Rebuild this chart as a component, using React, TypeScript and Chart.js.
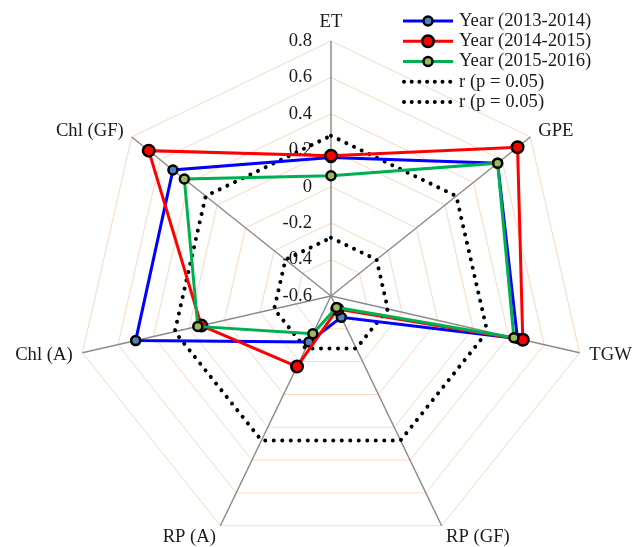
import React, { useEffect, useRef } from 'react';
import { Chart, registerables } from 'chart.js';

Chart.register(...registerables);

// ---------- data ----------
const categories = ['ET', 'GPE', 'TGW', 'RP (GF)', 'RP (A)', 'Chl (A)', 'Chl (GF)'];
const year2013_2014 = [0.16, 0.57, 0.45, -0.47, -0.32, 0.5, 0.51];
const year2014_2015 = [0.17, 0.71, 0.48, -0.52, -0.17, 0.13, 0.68];
const year2015_2016 = [0.06, 0.57, 0.43, -0.53, -0.37, 0.15, 0.43];
const rUpper = [0.28, 0.28, 0.28, 0.28, 0.28, 0.28, 0.28];
const rLower = [-0.28, -0.28, -0.28, -0.28, -0.28, -0.28, -0.28];
const seriesLabels = ['Year (2013-2014)', 'Year (2014-2015)', 'Year (2015-2016)', 'r (p = 0.05)', 'r (p = 0.05)'];
const tickLabels = ['-0.6', '-0.4', '-0.2', '0', '0.2', '0.4', '0.6', '0.8'];
const scaleMin = -0.6;
const scaleMax = 0.8;
const scaleStep = 0.2;

// ---------- styles ----------
const FONT = "'Liberation Serif', 'Times New Roman', serif";
const FONT_SIZE = 18.67;
const TEXT_COLOR = '#1a1a1a';
const DOT_DASH = [0.001, 8.5];
const LEGEND_DOT_DASH = [0.001, 7.7];
const CANVAS_W = 644;
const CANVAS_H = 592; // taller than the window; the bottom is cut by the viewport

const overlayPlugin = {
  id: 'overlayText',
  beforeDatasetsDraw(chart: any) {
    const s = chart.scales.r;
    const ctx = chart.ctx;
    ctx.save();
    ctx.font = `${FONT_SIZE}px ${FONT}`;
    ctx.fillStyle = TEXT_COLOR;
    // tick labels, right-aligned left of the vertical axis
    ctx.textAlign = 'right';
    ctx.textBaseline = 'middle';
    s.ticks.forEach((t: any, i: number) => {
      const d = s.getDistanceFromCenterForValue(t.value);
      ctx.fillText(tickLabels[i] ?? String(t.value), s.xCenter - 19, s.yCenter - d);
    });
    // point labels
    categories.forEach((lab, i) => {
      const p = s.getPointPosition(i, s.drawingArea + 10);
      const dx = p.x - s.xCenter;
      ctx.textAlign = Math.abs(dx) < 1 ? 'center' : dx > 0 ? 'left' : 'right';
      ctx.textBaseline = Math.abs(dx) < 1 && p.y < s.yCenter ? 'bottom' : 'middle';
      const extra = p.y > s.yCenter + s.drawingArea * 0.8 ? 2 : 0;
      ctx.fillText(lab, p.x, p.y + extra);
    });
    ctx.restore();
  },
  afterDraw(chart: any) {
    const ctx = chart.ctx;
    const x0 = 403;
    const x1 = 453;
    const tx = 459;
    const y0 = 21;
    const rowH = 20.25;
    ctx.save();
    chart.data.datasets.forEach((ds: any, i: number) => {
      const y = y0 + i * rowH;
      ctx.save();
      ctx.strokeStyle = ds.borderColor;
      ctx.lineWidth = ds.borderWidth;
      if (ds.borderDash && ds.borderDash.length) {
        ctx.setLineDash(LEGEND_DOT_DASH);
        ctx.lineCap = 'round';
        ctx.beginPath();
        ctx.moveTo(x0 + 1, y);
        ctx.lineTo(x1, y);
        ctx.stroke();
      } else {
        ctx.beginPath();
        ctx.moveTo(x0, y);
        ctx.lineTo(x1, y);
        ctx.stroke();
        ctx.beginPath();
        ctx.arc((x0 + x1) / 2, y, ds.pointRadius, 0, Math.PI * 2);
        ctx.fillStyle = ds.pointBackgroundColor;
        ctx.fill();
        ctx.lineWidth = ds.pointBorderWidth;
        ctx.strokeStyle = ds.pointBorderColor;
        ctx.stroke();
      }
      ctx.restore();
      ctx.font = `${FONT_SIZE}px ${FONT}`;
      ctx.fillStyle = TEXT_COLOR;
      ctx.textAlign = 'left';
      ctx.textBaseline = 'middle';
      ctx.fillText(ds.label, tx, y);
    });
    ctx.restore();
  },
};

export default function App() {
  const ref = useRef<HTMLCanvasElement>(null);
  useEffect(() => {
    if (!ref.current) return;
    const lineSeries = (label: string, data: number[], line: string, fillC: string, r: number, order: number) => ({
      label,
      data,
      borderColor: line,
      backgroundColor: 'transparent',
      borderWidth: 3,
      fill: false,
      pointRadius: r,
      pointBackgroundColor: fillC,
      pointBorderColor: '#000000',
      pointBorderWidth: 2.5,
      pointHoverRadius: r,
      order,
    });
    const dotSeries = (label: string, data: number[], order: number) => ({
      label,
      data,
      borderColor: '#000000',
      backgroundColor: 'transparent',
      borderWidth: 4,
      borderDash: DOT_DASH,
      borderCapStyle: 'round',
      fill: false,
      pointRadius: 0,
      pointHoverRadius: 0,
      order,
    });
    const chart = new Chart(ref.current, {
      type: 'radar',
      data: {
        labels: categories,
        datasets: [
          lineSeries(seriesLabels[0], year2013_2014, '#0000ff', '#4f81bd', 4.5, 3),
          lineSeries(seriesLabels[1], year2014_2015, '#ff0000', '#ff0000', 5.75, 2),
          lineSeries(seriesLabels[2], year2015_2016, '#00b050', '#9bbb59', 4.5, 1),
          dotSeries(seriesLabels[3], rUpper, 4),
          dotSeries(seriesLabels[4], rLower, 5),
        ] as any,
      },
      options: {
        responsive: false,
        animation: false,
        devicePixelRatio: 1,
        layout: { padding: { left: 76, right: 58, top: 0, bottom: 0 } },
        plugins: { legend: { display: false }, tooltip: { enabled: false } },
        elements: { line: { tension: 0 } },
        scales: {
          r: {
            min: scaleMin,
            max: scaleMax,
            ticks: { display: false, stepSize: scaleStep },
            pointLabels: { display: false },
            grid: { color: '#f9d9c2', lineWidth: 1 },
            angleLines: { color: '#8c8c8c', lineWidth: 1.5 },
          },
        },
      } as any,
      plugins: [overlayPlugin],
    });
    return () => chart.destroy();
  }, []);
  return (
    <div style={{ position: 'fixed', left: 0, top: 0, width: 644, height: 547, overflow: 'hidden', background: '#ffffff' }}>
      <canvas ref={ref} width={CANVAS_W} height={CANVAS_H} style={{ display: 'block', width: CANVAS_W, height: CANVAS_H }} />
    </div>
  );
}
